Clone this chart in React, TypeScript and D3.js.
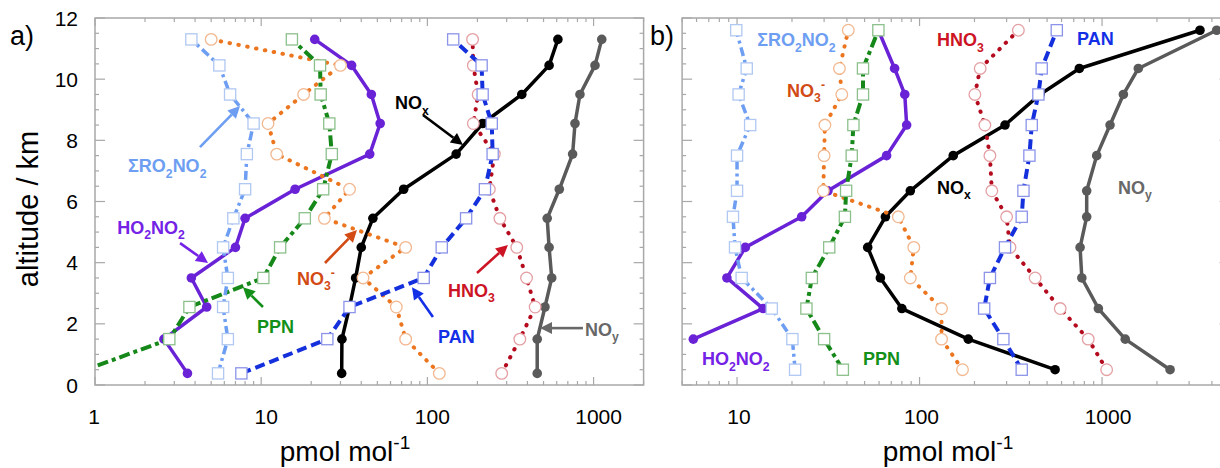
import React from 'react';
import * as d3 from 'd3';

// altitude levels (km) of the profile bins
const altA = [0.38, 1.5, 2.55, 3.5, 4.5, 5.45, 6.4, 7.55, 8.55, 9.5, 10.45, 11.3];
const altB = [0.5, 1.5, 2.5, 3.5, 4.5, 5.5, 6.35, 7.5, 8.5, 9.5, 10.35, 11.6];

// panel a) mixing ratios, pmol/mol
const noyA = [458, 458, 510, 560, 540, 526, 622, 748, 773, 828, 1020, 1120];
const noxA = [30.5, 30.6, 34, 37, 40, 47, 72, 149, 215, 370, 540, 610];
const ho2no2A = [3.6, 2.6, 4.7, 3.8, 7.0, 8.0, 16, 45, 52, 46, 35, 21];
const hno3A = [280, 360, 445, 395, 345, 273, 236, 253, 189, 202, 189, 187];
const no3A = [118, 74, 65, 41, 74, 24, 34, 12.4, 11, 18, 30, 5];
const ppnA = [0.77, 2.8, 3.7, 10.3, 13, 18.3, 23.6, 26.6, 25.7, 22.8, 22.6, 15.3];
const ro2no2A = [5.5, 6.3, 5.9, 6.3, 5.9, 6.8, 8.0, 8.2, 9.0, 6.5, 5.6, 3.8];
const panA = [7.6, 25, 34, 95, 122, 171, 222, 247, 244, 215, 212, 143];

// panel b)
const noyB = [2360, 1340, 955, 775, 758, 824, 824, 935, 1106, 1309, 1581, 4250];
const noxB = [553, 185, 80, 61, 52, 65, 89, 153, 294, 457, 751, 3440];
const ho2no2B = [NaN, 5.76, 13.9, 8.8, 11.1, 22.6, 31.5, 66, 85, 83, 73, 59.5];
const hno3B = [1060, 840, 590, 430, 313, 300, 249, 243, 228, 201, 215, 348];
const no3B = [172, 132, 132, 89, 93, 76.5, 29.7, 30, 30.3, 37.5, 36.4, 40.7];
const ppnB = [38, 30, 24, 25.7, 32, 39, 39.6, 42.5, 43.4, 49, 49, 59.5];
const ro2no2B = [20.8, 20.1, 15.5, 10.6, 9.75, 9.5, 10, 10, 11.8, 10.2, 11.3, 9.9];
const panB = [363, 288, 226, 243, 294, 363, 371, 400, 412, 448, 467, 565];

const yTicks = d3.range(0, 12.01, 0.5);
const yLabels = [0, 2, 4, 6, 8, 10, 12];
const xLabelsA = [1, 10, 100, 1000];
const xLabelsB = [10, 100, 1000];

// label texts: [text, 0 normal | 1 subscript | -1 superscript]
type Part = [string, number];
const labels: Record<string, Part[]> = {
  RO2NO2: [['\u03A3RO', 0], ['2', 1], ['NO', 0], ['2', 1]],
  HO2NO2: [['HO', 0], ['2', 1], ['NO', 0], ['2', 1]],
  PPN: [['PPN', 0]],
  NO3: [['NO', 0], ['3', 1], ['-', -1]],
  NOx: [['NO', 0], ['x', 1]],
  HNO3: [['HNO', 0], ['3', 1]],
  PAN: [['PAN', 0]],
  NOy: [['NO', 0], ['y', 1]],
};

// annotation anchors in data units [value, altitude]
const annA = [
  { key: 'RO2NO2', at: [1.58, 6.96], arrow: [[4.28, 7.78], [7.46, 9.12]] },
  { key: 'HO2NO2', at: [1.36, 4.94], arrow: [[3.25, 4.64], [4.79, 3.99]] },
  { key: 'PPN', at: [9.43, 1.7], arrow: [[10.25, 2.55], [7.77, 3.2]] },
  { key: 'NO3', at: [16.4, 3.27], arrow: [[24.2, 3.99], [37.7, 5.07]] },
  { key: 'NOx', at: [63.8, 9.02], arrow: [[94.1, 8.83], [163.8, 7.85]] },
  { key: 'HNO3', at: [133, 2.88], arrow: [[198.8, 3.66], [305.5, 4.58]] },
  { key: 'PAN', at: [115.8, 1.37], arrow: [[108, 2.22], [80.8, 3.2]] },
  { key: 'NOy', at: [888, 1.6], arrow: [[863, 1.86], [476, 1.86]] },
];
const annB = [
  { key: 'RO2NO2', at: [12.9, 11.08] },
  { key: 'NO3', at: [18.8, 9.42] },
  { key: 'HNO3', at: [124.7, 11.08] },
  { key: 'PAN', at: [729, 11.12] },
  { key: 'NOx', at: [124.7, 6.25] },
  { key: 'NOy', at: [1224, 6.25] },
  { key: 'HO2NO2', at: [6.43, 0.65] },
  { key: 'PPN', at: [49, 0.65] },
];

type Style = { color: string; text: string; width: number; dash?: string; cap?: string; marker: string; mcolor: string };
const styles: Record<string, Style> = {
  NOy: { color: '#5a5a5a', text: '#686868', width: 3.5, marker: 'dot', mcolor: '#5a5a5a' },
  NOx: { color: '#000000', text: '#000000', width: 3.5, marker: 'dot', mcolor: '#000000' },
  HO2NO2: { color: '#6a22d6', text: '#7422e6', width: 3.5, marker: 'dot', mcolor: '#6a22d6' },
  HNO3: { color: '#b40c1e', text: '#cc1424', width: 4, dash: '0.5,8.5', cap: 'round', marker: 'circle', mcolor: '#e4a0a4' },
  NO3: { color: '#ec7620', text: '#d24a14', width: 4, dash: '0.5,8.5', cap: 'round', marker: 'circle', mcolor: '#f2b890' },
  PPN: { color: '#16881a', text: '#14901a', width: 4, dash: '11,4,4,4', marker: 'square', mcolor: '#8cc08c' },
  RO2NO2: { color: '#6d9ef2', text: '#6d9ef2', width: 3.5, dash: '9,4,3,4', marker: 'square', mcolor: '#b0c8f2' },
  PAN: { color: '#1430dc', text: '#1430e6', width: 4, dash: '10,5', marker: 'square', mcolor: '#8c94ea' },
};

const order = ['NOy', 'NOx', 'HO2NO2', 'HNO3', 'NO3', 'PPN', 'RO2NO2', 'PAN'];

const y = d3.scaleLinear().domain([0, 12]).range([385, 18]);
const xA = d3.scaleLog().domain([1, 2000]).range([95, 643.6]);
const xB = d3.scaleLog().domain([5, 5000]).range([682.1, 1229.6]);

const FONT = 'Arial, "Liberation Sans", sans-serif';
const AXIS = '#a8a8a8';

function Rich({ x, yy, parts, size, color, weight = 'bold', anchor = 'start' }: any) {
  let shift = 0;
  return (
    <text x={x} y={yy} fontSize={size} fill={color} fontWeight={weight} fontFamily={FONT} textAnchor={anchor}>
      {parts.map(([t, s]: Part, i: number) => {
        const target = s === 1 ? size * 0.3 : s === -1 ? -size * 0.42 : 0;
        const dy = target - shift;
        shift = target;
        return (
          <tspan key={i} dy={dy} fontSize={s ? size * 0.68 : size}>
            {t}
          </tspan>
        );
      })}
    </text>
  );
}

function Arrow({ x1, y1, x2, y2, color }: any) {
  const ang = Math.atan2(y2 - y1, x2 - x1);
  const L = 12, hw = 6;
  const bx = x2 - L * Math.cos(ang), by = y2 - L * Math.sin(ang);
  const px = -Math.sin(ang) * hw, py = Math.cos(ang) * hw;
  return (
    <g>
      <line x1={x1} y1={y1} x2={bx} y2={by} stroke={color} strokeWidth={2.6} />
      <polygon points={`${x2},${y2} ${bx + px},${by + py} ${bx - px},${by - py}`} fill={color} />
    </g>
  );
}

function Panel({ id, x, alts, series, ann, xLabels, yLabelsOn, dx }: any) {
  const [x0, x1] = x.range();
  const [yb, yt] = y.range();
  const line = d3
    .line<[number, number]>()
    .x((p) => x(p[1]))
    .y((p) => y(p[0]));
  const xt = x.ticks();
  const isMajor = (v: number) => Math.abs(Math.log10(v) - Math.round(Math.log10(v))) < 1e-6;
  return (
    <g>
      <defs>
        <clipPath id={id}>
          <rect x={x0} y={yt} width={x1 - x0} height={yb - yt} />
        </clipPath>
      </defs>
      {/* frame */}
      <rect x={x0} y={yt} width={x1 - x0} height={yb - yt} fill="none" stroke={AXIS} strokeWidth={1.5} />
      {xt.map((v: number, i: number) => {
        const l = isMajor(v) ? 8 : 4;
        return (
          <g key={i} stroke={AXIS} strokeWidth={1.2}>
            <line x1={x(v)} x2={x(v)} y1={yb} y2={yb - l} />
            <line x1={x(v)} x2={x(v)} y1={yt} y2={yt + l} />
          </g>
        );
      })}
      {yTicks.map((v, i) => {
        const l = v % 2 === 0 ? 10 : 4;
        return (
          <g key={i} stroke={AXIS} strokeWidth={1.2}>
            <line x1={x0} x2={x0 + l} y1={y(v)} y2={y(v)} />
            <line x1={x1} x2={x1 - l} y1={y(v)} y2={y(v)} />
          </g>
        );
      })}
      {xLabels.map((v: number) => (
        <text key={v} x={x(v) + dx(v)} y={424} fontSize={21} fontFamily={FONT} textAnchor="middle" fill="#000">
          {v}
        </text>
      ))}
      {yLabelsOn &&
        yLabels.map((v) => (
          <text key={v} x={78} y={y(v)} dy="0.36em" fontSize={21} fontFamily={FONT} textAnchor="end" fill="#000">
            {v}
          </text>
        ))}
      <g clipPath={`url(#${id})`}>
        {order.map((k) => {
          const st = styles[k];
          const pts = alts
            .map((a: number, i: number) => [a, series[k][i]] as [number, number])
            .filter((p: [number, number]) => !isNaN(p[1]));
          return (
            <g key={k}>
              <path
                d={line(pts) || ''}
                fill="none"
                stroke={st.color}
                strokeWidth={st.width}
                strokeDasharray={st.dash}
                strokeLinecap={(st.cap as any) || 'butt'}
                strokeLinejoin="round"
              />
              {pts.map((p: [number, number], i: number) => {
                const cx = x(p[1]), cy = y(p[0]);
                if (st.marker === 'dot') return <circle key={i} cx={cx} cy={cy} r={4.8} fill={st.mcolor} />;
                if (st.marker === 'circle')
                  return <circle key={i} cx={cx} cy={cy} r={5.8} fill="#fff" stroke={st.mcolor} strokeWidth={1.3} />;
                return (
                  <rect key={i} x={cx - 5.6} y={cy - 5.6} width={11.2} height={11.2} fill="#fff" stroke={st.mcolor} strokeWidth={1.3} />
                );
              })}
            </g>
          );
        })}
      </g>
      {ann.map((a: any, i: number) => (
        <g key={i}>
          <Rich x={x(a.at[0])} yy={y(a.at[1])} parts={labels[a.key]} size={18} color={styles[a.key].text} />
          {a.arrow && (
            <Arrow
              x1={x(a.arrow[0][0])}
              y1={y(a.arrow[0][1])}
              x2={x(a.arrow[1][0])}
              y2={y(a.arrow[1][1])}
              color={styles[a.key].text}
            />
          )}
        </g>
      ))}
    </g>
  );
}

export default function App() {
  const seriesA = { NOy: noyA, NOx: noxA, HO2NO2: ho2no2A, HNO3: hno3A, NO3: no3A, PPN: ppnA, RO2NO2: ro2no2A, PAN: panA };
  const seriesB = { NOy: noyB, NOx: noxB, HO2NO2: ho2no2B, HNO3: hno3B, NO3: no3B, PPN: ppnB, RO2NO2: ro2no2B, PAN: panB };
  const unit: Part[] = [['pmol mol', 0], ['-1', -1]];
  return (
    <svg width={1220} height={468} style={{ position: 'absolute', left: 0, top: 0, background: '#fff' }}>
      <rect width={1220} height={468} fill="#fff" />
      <Panel id="clipA" x={xA} alts={altA} series={seriesA} ann={annA} xLabels={xLabelsA} yLabelsOn dx={(v: number) => (v === 1 ? -1 : 5)} />
      <Panel id="clipB" x={xB} alts={altB} series={seriesB} ann={annB} xLabels={xLabelsB} yLabelsOn={false} dx={(v: number) => (v === 1000 ? 6 : 2)} />
      <text x={10} y={45} fontSize={27} fontFamily={FONT} fill="#000">a)</text>
      <text x={650} y={45} fontSize={27} fontFamily={FONT} fill="#000">b)</text>
      <text transform="translate(38,209) rotate(-90)" fontSize={29} fontFamily={FONT} textAnchor="middle" fill="#000">
        altitude / km
      </text>
      <Rich x={345} yy={461} parts={unit} size={28} color="#000" weight="normal" anchor="middle" />
      <Rich x={948} yy={461} parts={unit} size={28} color="#000" weight="normal" anchor="middle" />
    </svg>
  );
}
